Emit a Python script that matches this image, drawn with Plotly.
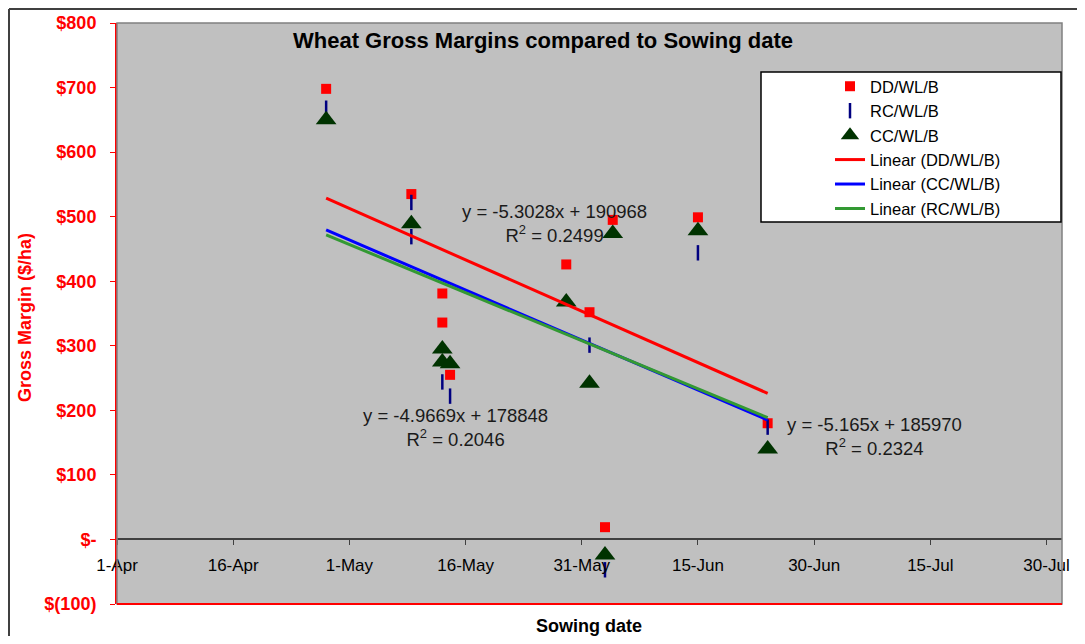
import datetime as dt
import plotly.graph_objects as go

# sowing dates (1998) and gross margins ($/ha)
dd_dates = ["1998-04-28", "1998-05-09", "1998-05-13", "1998-05-13", "1998-05-14", "1998-05-29",
            "1998-06-01", "1998-06-03", "1998-06-04", "1998-06-15", "1998-06-24"]
dd_values = [698, 535, 381, 336, 255, 426, 352, 19, 495, 499, 180]

rc_dates = ["1998-04-28", "1998-05-09", "1998-05-09", "1998-05-13", "1998-05-14", "1998-06-01",
            "1998-06-03", "1998-06-15", "1998-06-24"]
rc_values = [668, 522, 469, 244, 222, 301, -47, 444, 174]

cc_dates = ["1998-04-28", "1998-05-09", "1998-05-13", "1998-05-13", "1998-05-14", "1998-05-29",
            "1998-06-01", "1998-06-03", "1998-06-04", "1998-06-15", "1998-06-24"]
cc_values = [650, 489, 295, 275, 272, 368, 242, -24, 474, 478, 140]

# Excel linear trendlines (x = Excel date serial)
dd_fit = (-5.3028, 190968, "0.2499")
rc_fit = (-4.9669, 178848, "0.2046")
cc_fit = (-5.165, 185970, "0.2324")

x_ticks = ["1998-04-01", "1998-04-16", "1998-05-01", "1998-05-16", "1998-05-31",
           "1998-06-15", "1998-06-30", "1998-07-15", "1998-07-30"]
y_ticks = [-100, 0, 100, 200, 300, 400, 500, 600, 700, 800]
y_labels = ["$(100)", "$-", "$100", "$200", "$300", "$400", "$500", "$600", "$700", "$800"]

FONT = "Arial, 'Liberation Sans', sans-serif"
# the page body adds an 8px margin, so the figure sits at (8, 8)
OFF = 8
W, H = 1085 - 2 * OFF, 644 - 2 * OFF
PL, PR, PT, PB = 117, 1062, 23, 604          # plot area in page pixels
L, R, T, B = PL - OFF, OFF + W - PR, PT - OFF, OFF + H - PB
PW, PH = PR - PL, PB - PT


def px_x(px):
    return (px - PL) / PW


def px_y(py):
    return (PB - py) / PH


def serial(d):
    return (dt.datetime.strptime(d, "%Y-%m-%d") - dt.datetime(1899, 12, 30)).days


def trend(dates, fit):
    lo, hi = min(dates), max(dates)
    m, c, _ = fit
    return [lo, hi], [m * serial(lo) + c, m * serial(hi) + c]


fig = go.Figure()
fig.add_trace(go.Scatter(x=dd_dates, y=dd_values, mode="markers", name="DD/WL/B",
                         marker=dict(symbol="square", size=10, color="#FF0000")))
fig.add_trace(go.Scatter(x=rc_dates, y=rc_values, mode="markers", name="RC/WL/B",
                         marker=dict(symbol="line-ns", size=11, color="#000080",
                                     line=dict(color="#000080", width=2.5))))
fig.add_trace(go.Scatter(x=cc_dates, y=cc_values, mode="markers", name="CC/WL/B",
                         marker=dict(symbol="triangle-up", size=18, color="#003300")))

tx, ty = trend(dd_dates, dd_fit)
fig.add_trace(go.Scatter(x=tx, y=ty, mode="lines", name="Linear (DD/WL/B)",
                         line=dict(color="#FF0000", width=3)))
tx, ty = trend(cc_dates, cc_fit)
fig.add_trace(go.Scatter(x=tx, y=ty, mode="lines", name="Linear (CC/WL/B)",
                         line=dict(color="#0000FF", width=3)))
tx, ty = trend(rc_dates, rc_fit)
fig.add_trace(go.Scatter(x=tx, y=ty, mode="lines", name="Linear (RC/WL/B)",
                         line=dict(color="#339933", width=3)))


def eq_text(fit):
    m, c, r2 = fit
    return f"y = {m:g}x + {c}<br>R<sup>2</sup> = {r2}"


annotations = [
    dict(text="<b>Wheat Gross Margins compared to Sowing date</b>", x=px_x(543), y=px_y(40),
         font=dict(size=22, color="black")),
    dict(text="<b>Sowing date</b>", x=px_x(589), y=px_y(626), font=dict(size=18, color="black")),
    dict(text="<b>Gross Margin ($/ha)</b>", x=px_x(25), y=px_y(318), textangle=-90,
         font=dict(size=18, color="#FF0000")),
    dict(text=eq_text(dd_fit), x=px_x(554), y=px_y(224), font=dict(size=18.5, color="#1a1a1a")),
    dict(text=eq_text(rc_fit), x=px_x(455), y=px_y(428), font=dict(size=18.5, color="#1a1a1a")),
    dict(text=eq_text(cc_fit), x=px_x(874), y=px_y(436), font=dict(size=18.5, color="#1a1a1a")),
]
for a in annotations:
    a.update(xref="paper", yref="paper", showarrow=False, xanchor="center", yanchor="middle")

shapes = [
    # plot area border
    dict(type="rect", xref="paper", yref="paper", x0=0, x1=1, y0=0, y1=1,
         line=dict(color="#808080", width=1.5)),
    dict(type="line", xref="paper", yref="paper", x0=0, x1=1, y0=0, y1=0,
         line=dict(color="#FF0000", width=2)),
    # legend box
    dict(type="rect", xref="paper", yref="paper", x0=px_x(761), x1=px_x(1061),
         y0=px_y(222), y1=px_y(72), fillcolor="white", line=dict(color="black", width=1.5),
         layer="above"),
    # outer chart frame
    dict(type="line", xref="paper", yref="paper", x0=px_x(9), x1=px_x(1090), y0=px_y(9), y1=px_y(9),
         line=dict(color="#404040", width=2)),
    dict(type="line", xref="paper", yref="paper", x0=px_x(9), x1=px_x(9), y0=px_y(9), y1=px_y(650),
         line=dict(color="#404040", width=2)),
]

fig.update_layout(
    width=W, height=H,
    margin=dict(l=L, r=R, t=T, b=B, autoexpand=False),
    paper_bgcolor="white", plot_bgcolor="#C0C0C0",
    font=dict(family=FONT, size=17, color="black"),
    showlegend=True,
    legend=dict(x=px_x(830), y=px_y(69), xanchor="left", yanchor="top",
                bgcolor="rgba(0,0,0,0)", borderwidth=0, font=dict(size=16.5, color="black"),
                tracegroupgap=0),
    annotations=annotations,
    shapes=shapes,
)
fig.update_xaxes(type="date", range=["1998-04-01", "1998-08-01"], tickvals=x_ticks,
                 tickformat="%-d-%b", showgrid=False, zeroline=False,
                 anchor="free", position=(0 - y_ticks[0]) / (y_ticks[-1] - y_ticks[0]),
                 showline=True, linecolor="#404040", linewidth=1.5,
                 ticks="outside", ticklen=5, tickcolor="#404040", ticklabelstandoff=5,
                 tickfont=dict(size=17, color="black"))
fig.update_yaxes(range=[-100, 800], tickvals=y_ticks, ticktext=y_labels, showgrid=False,
                 zeroline=False, showline=True, linecolor="#FF0000", linewidth=2,
                 ticks="outside", ticklen=5, tickcolor="#FF0000", ticklabelstandoff=10,
                 tickfont=dict(size=18, color="#FF0000", weight="bold"))

fig.write_html("out.html")
